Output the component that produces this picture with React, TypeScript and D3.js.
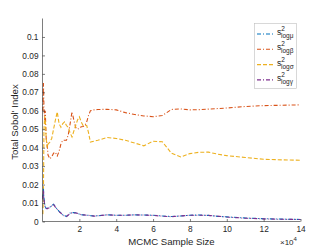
import { useEffect, useRef } from 'react';
import * as d3 from 'd3';

const sampleSizes = [
  200, 500, 800, 1200, 1500, 2000, 2500, 3000, 4000, 5000, 6000, 7000, 8000, 9000,
  10000, 11000, 12000, 13000, 14000, 15000, 16000, 17000, 18000, 19000, 20000,
  21000, 22000, 23000, 24000, 25000, 26000, 28000, 30000, 35000, 40000, 45000,
  50000, 55000, 60000, 65000, 70000, 75000, 80000, 85000, 90000, 95000, 100000,
  110000, 120000, 130000, 140000,
];

const logMu = [
  0.013, 0.0178, 0.0125, 0.0095, 0.008, 0.0072, 0.007, 0.0073, 0.0078, 0.0086,
  0.0093, 0.008, 0.0066, 0.0055, 0.0046, 0.0036, 0.0031, 0.0028, 0.0036, 0.0046,
  0.0048, 0.0048, 0.0047, 0.0044, 0.0041, 0.0037, 0.0036, 0.0035, 0.0034, 0.0034,
  0.0032, 0.003, 0.0031, 0.0036, 0.0034, 0.0034, 0.0036, 0.0035, 0.0034, 0.003,
  0.0027, 0.003, 0.0034, 0.0035, 0.0033, 0.0028, 0.0025, 0.0019, 0.0015, 0.0013,
  0.0011,
];

const logBeta = [
  0.06, 0.075, 0.062, 0.055, 0.06, 0.045, 0.042, 0.036, 0.034, 0.035, 0.037,
  0.0375, 0.0355, 0.038, 0.042, 0.044, 0.044, 0.044, 0.047, 0.053, 0.0595, 0.055,
  0.051, 0.05, 0.0505, 0.0513, 0.0515, 0.052, 0.054, 0.0575, 0.06, 0.0605, 0.0607,
  0.0608, 0.0605, 0.059, 0.058, 0.0572, 0.0568, 0.0574, 0.0607, 0.061, 0.0605,
  0.0606, 0.0609, 0.0612, 0.0615, 0.0623, 0.0628, 0.063, 0.0632,
];

const logSigma = [
  0.004, 0.015, 0.05, 0.057, 0.055, 0.045, 0.04, 0.042, 0.043, 0.045, 0.05, 0.055,
  0.0594, 0.053, 0.051, 0.053, 0.054, 0.052, 0.051, 0.048, 0.0458, 0.049, 0.052,
  0.055, 0.0567, 0.054, 0.052, 0.052, 0.052, 0.048, 0.043, 0.0435, 0.044, 0.0455,
  0.045, 0.044, 0.0425, 0.041, 0.0435, 0.0432, 0.037, 0.035, 0.0368, 0.0375,
  0.0376, 0.0365, 0.0357, 0.0347, 0.0337, 0.0334, 0.0332,
];

const logGamma = [
  0.012, 0.0168, 0.012, 0.009, 0.0075, 0.007, 0.0069, 0.0072, 0.0076, 0.0085,
  0.0092, 0.0078, 0.0065, 0.0054, 0.0045, 0.0035, 0.003, 0.0027, 0.0035, 0.0045,
  0.0047, 0.0047, 0.0046, 0.0044, 0.004, 0.0036, 0.0036, 0.0035, 0.0034, 0.0034,
  0.0032, 0.0029, 0.0031, 0.0036, 0.0034, 0.0034, 0.0036, 0.0035, 0.0033, 0.0029,
  0.0026, 0.003, 0.0034, 0.0034, 0.0033, 0.0029, 0.0024, 0.0018, 0.0014, 0.0012,
  0.0011,
];

const seriesNames = ['log\u03bc', 'log\u03b2', 'log\u03c3', 'log\u03b3'];
const seriesColors = ['#0072BD', '#D95319', '#EDB120', '#7E2F8E'];
const seriesDashes = ['4,2,1,2', '4,2,1,2', '4,2', '4,2,1,2'];

const yTicks = [0, 0.01, 0.02, 0.03, 0.04, 0.05, 0.06, 0.07, 0.08, 0.09, 0.1];
const xTicks = [20000, 40000, 60000, 80000, 100000, 120000, 140000];

export default function App() {
  const svgRef = useRef<SVGSVGElement>(null);

  useEffect(() => {
    if (!svgRef.current) return;
    const svg = d3.select(svgRef.current);
    svg.selectAll('*').remove();

    const left = 42.5;
    const right = 300.5;
    const top = 18.5;
    const bottom = 221.5;
    const font = '"Liberation Sans", Arial, sans-serif';
    const axisColor = '#262626';

    const x = d3.scaleLinear().domain([0, 140000]).range([left, right]);
    const y = d3.scaleLinear().domain([0, 0.11]).range([bottom, top]);

    const allSeries = [logMu, logBeta, logSigma, logGamma];

    // draw lines, orange/yellow first so the low ones sit on top
    const order = [1, 2, 0, 3];
    const line = d3
      .line<number>()
      .x((d, i) => x(sampleSizes[i]))
      .y(d => y(d));

    order.forEach(k => {
      svg
        .append('path')
        .datum(allSeries[k])
        .attr('d', line)
        .attr('fill', 'none')
        .attr('stroke', seriesColors[k])
        .attr('stroke-width', 1.1)
        .attr('stroke-dasharray', seriesDashes[k]);
    });

    // y axis
    const yAxis = svg
      .append('g')
      .attr('transform', `translate(${left},0)`)
      .call(
        d3
          .axisLeft(y)
          .tickValues(yTicks)
          .tickSize(-2.5)
          .tickPadding(4)
          .tickFormat(d => d3.format('~g')(+d))
      );
    yAxis.select('.domain').attr('d', `M0,${top}V${bottom}`);

    // x axis
    const xAxis = svg
      .append('g')
      .attr('transform', `translate(0,${bottom})`)
      .call(
        d3
          .axisBottom(x)
          .tickValues(xTicks)
          .tickSize(-2.5)
          .tickPadding(5)
          .tickFormat(d => String(+d / 10000))
      );
    xAxis.select('.domain').attr('d', `M${left},0H${right}`);

    [yAxis, xAxis].forEach(g => {
      g.selectAll('path, line').attr('stroke', axisColor).attr('stroke-width', 0.6);
      g.selectAll('text')
        .attr('fill', axisColor)
        .style('font-family', font)
        .style('font-size', '8.3px');
    });

    // axis labels
    svg
      .append('text')
      .attr('x', (left + right) / 2)
      .attr('y', 245)
      .attr('text-anchor', 'middle')
      .attr('fill', axisColor)
      .style('font-family', font)
      .style('font-size', '9.6px')
      .text('MCMC Sample Size');

    const mult = svg
      .append('text')
      .attr('x', 280)
      .attr('y', 245)
      .attr('fill', axisColor)
      .style('font-family', font)
      .style('font-size', '8px');
    mult.append('tspan').text('\u00d710');
    mult.append('tspan').attr('dy', -4).style('font-size', '6px').text('4');

    svg
      .append('text')
      .attr('transform', `translate(18,${(top + bottom) / 2 + 2}) rotate(-90)`)
      .attr('text-anchor', 'middle')
      .attr('fill', axisColor)
      .style('font-family', font)
      .style('font-size', '9.6px')
      .text("Total Sobol' Index");

    // legend
    const legend = svg.append('g');
    legend
      .append('rect')
      .attr('x', 254.5)
      .attr('y', 23.5)
      .attr('width', 42)
      .attr('height', 65)
      .attr('fill', 'white')
      .attr('stroke', '#bfbfbf')
      .attr('stroke-width', 0.6);

    seriesNames.forEach((name, k) => {
      const ly = 34 + k * 15.3;
      legend
        .append('line')
        .attr('x1', 257)
        .attr('x2', 275)
        .attr('y1', ly)
        .attr('y2', ly)
        .attr('stroke', seriesColors[k])
        .attr('stroke-width', 1.1)
        .attr('stroke-dasharray', seriesDashes[k]);
      const t = legend
        .append('text')
        .attr('x', 277)
        .attr('y', ly + 1)
        .attr('fill', axisColor)
        .style('font-family', font)
        .style('font-size', '8.5px');
      t.append('tspan').text('s');
      t.append('tspan').attr('dy', -4).style('font-size', '6.5px').text('2');
      t.append('tspan').attr('x', 281).attr('dy', 7).style('font-size', '6.5px').text(name);
    });
  }, []);

  return (
    <svg
      ref={svgRef}
      width={332}
      height={249}
      style={{ position: 'absolute', left: 0, top: 0, background: 'white' }}
    ></svg>
  );
}
